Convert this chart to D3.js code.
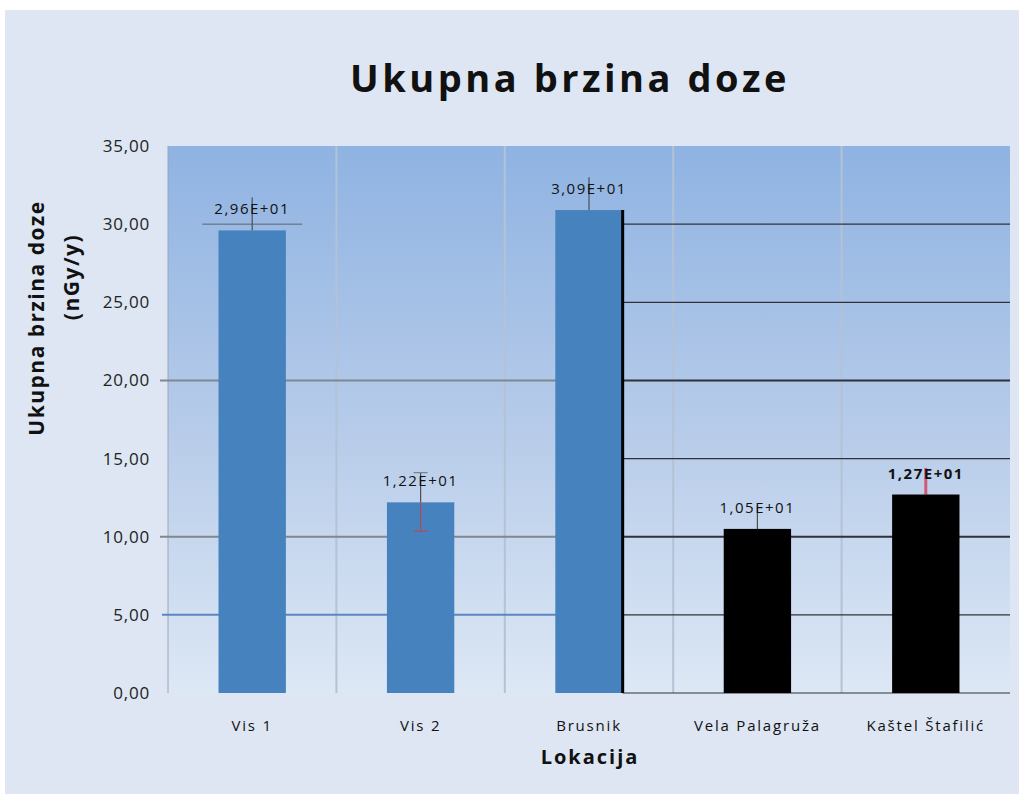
<!DOCTYPE html>
<html>
<head>
<meta charset="utf-8">
<script src="https://cdn.jsdelivr.net/npm/d3@7"></script>
<style>
  body { margin: 0; background: #ffffff; }
  svg { display: block; }
</style>
</head>
<body>
<div id="chart"></div>
<script>
// Data
var locations = ["Vis 1", "Vis 2", "Brusnik", "Vela Palagruža", "Kaštel Štafilić"];
var doseRates = [29.6, 12.2, 30.9, 10.5, 12.7];
var valueLabels = ["2,96E+01", "1,22E+01", "3,09E+01", "1,05E+01", "1,27E+01"];
var errorUp = [2.1, 1.9, 2.1, 1.5, 1.7];
var errorDown = [0, 1.85, 0, 0, 0];
var barColors = ["#4682be", "#4682be", "#4682be", "#000000", "#000000"];
var yTicks = [0, 5, 10, 15, 20, 25, 30, 35];

var width = 1024;
var height = 802;
var margin = { top: 146, right: 14, bottom: 109, left: 168 };

var svg = d3.select("#chart").append("svg")
    .attr("width", width)
    .attr("height", height);

// Gradient for plot area
var defs = svg.append("defs");
var grad = defs.append("linearGradient")
    .attr("id", "plotGrad")
    .attr("x1", 0).attr("y1", 0).attr("x2", 0).attr("y2", 1);
grad.append("stop").attr("offset", "0%").attr("stop-color", "#8fb3e2");
grad.append("stop").attr("offset", "55%").attr("stop-color", "#b9cdea");
grad.append("stop").attr("offset", "100%").attr("stop-color", "#dde8f5");

// Outer chart background
svg.append("rect")
    .attr("x", 5).attr("y", 10)
    .attr("width", 1014).attr("height", 784)
    .attr("fill", "#dde6f2");

var x = d3.scaleBand()
    .domain(locations)
    .range([margin.left, width - margin.right])
    .paddingInner(0.6)
    .paddingOuter(0.3);

var y = d3.scaleLinear()
    .domain([0, 35])
    .range([height - margin.bottom, margin.top]);

var x0 = margin.left, x1 = width - margin.right;
var step = x.step();

// Plot area
svg.append("rect")
    .attr("x", x0).attr("y", y(35))
    .attr("width", x1 - x0).attr("height", y(0) - y(35))
    .attr("fill", "url(#plotGrad)");

// Vertical gridlines at category boundaries
svg.selectAll(".vgrid")
    .data(d3.range(1, locations.length))
    .enter().append("line")
    .attr("x1", i => x0 + i * step).attr("x2", i => x0 + i * step)
    .attr("y1", y(35)).attr("y2", y(0))
    .attr("stroke", "#b4c2d6")
    .attr("stroke-width", 2);

// Left axis line
svg.append("line")
    .attr("x1", x0).attr("x2", x0)
    .attr("y1", y(35)).attr("y2", y(0))
    .attr("stroke", "#9aa6b6").attr("stroke-width", 1);

var splitX = x("Brusnik") + x.bandwidth();

// Horizontal gridlines left part
var leftGrid = [20, 10];
svg.selectAll(".hgridL")
    .data(leftGrid)
    .enter().append("line")
    .attr("x1", x0 - 8).attr("x2", splitX)
    .attr("y1", d => y(d)).attr("y2", d => y(d))
    .attr("stroke", "#7f8790").attr("stroke-width", 2);

svg.append("line")
    .attr("x1", x0 - 6).attr("x2", splitX)
    .attr("y1", y(5)).attr("y2", y(5))
    .attr("stroke", "#5b87c0").attr("stroke-width", 2);

// Short segment at 30 near Vis 1
svg.append("line")
    .attr("x1", x("Vis 1") + x.bandwidth() / 2 - 50)
    .attr("x2", x("Vis 1") + x.bandwidth() / 2 + 50)
    .attr("y1", y(30)).attr("y2", y(30))
    .attr("stroke", "#5a6570").attr("stroke-width", 1);

// Horizontal gridlines right part
var rightGrid = [30, 25, 20, 15, 10, 5, 0];
svg.selectAll(".hgridR")
    .data(rightGrid)
    .enter().append("line")
    .attr("x1", splitX).attr("x2", x1)
    .attr("y1", d => y(d)).attr("y2", d => y(d))
    .attr("stroke", "#2f3338").attr("stroke-width", d => d === 20 || d === 10 ? 2 : 1.2);

// Error bars behind bars (upper part)
svg.append("g").selectAll(".errUp")
    .data(locations)
    .enter().append("line")
    .attr("x1", d => x(d) + x.bandwidth() / 2)
    .attr("x2", d => x(d) + x.bandwidth() / 2)
    .attr("y1", (d, i) => y(doseRates[i]))
    .attr("y2", (d, i) => y(doseRates[i] + errorUp[i]))
    .attr("stroke", (d, i) => i === 4 ? "#d05a78" : "#4a4f58")
    .attr("stroke-width", (d, i) => i === 4 ? 3 : 1.2);

// Bars
svg.selectAll(".bar")
    .data(locations)
    .enter().append("rect")
    .attr("x", d => x(d))
    .attr("y", (d, i) => y(doseRates[i]))
    .attr("width", x.bandwidth())
    .attr("height", (d, i) => y(0) - y(doseRates[i]))
    .attr("fill", (d, i) => barColors[i]);

// Lower error part, drawn over the bar
svg.selectAll(".errDown")
    .data(locations.filter((d, i) => errorDown[i] > 0))
    .enter().append("g")
    .each(function (d) {
        var i = locations.indexOf(d);
        var cx = x(d) + x.bandwidth() / 2;
        var g = d3.select(this);
        g.append("line")
            .attr("x1", cx).attr("x2", cx)
            .attr("y1", y(doseRates[i])).attr("y2", y(doseRates[i] - errorDown[i]))
            .attr("stroke", "#b04a5a").attr("stroke-width", 1.2);
        g.append("line")
            .attr("x1", cx - 7).attr("x2", cx + 7)
            .attr("y1", y(doseRates[i] - errorDown[i])).attr("y2", y(doseRates[i] - errorDown[i]))
            .attr("stroke", "#b04a5a").attr("stroke-width", 1.2);
        g.append("line")
            .attr("x1", cx - 7).attr("x2", cx + 7)
            .attr("y1", y(doseRates[i] + errorUp[i])).attr("y2", y(doseRates[i] + errorUp[i]))
            .attr("stroke", "#7a8088").attr("stroke-width", 1.2);
    });

// Black vertical line at Brusnik right edge
svg.append("line")
    .attr("x1", splitX).attr("x2", splitX)
    .attr("y1", y(doseRates[2])).attr("y2", y(0))
    .attr("stroke", "#000").attr("stroke-width", 3);

// Value labels
svg.selectAll(".vlabel")
    .data(locations)
    .enter().append("text")
    .attr("x", d => x(d) + x.bandwidth() / 2)
    .attr("y", (d, i) => y(doseRates[i]) - 16)
    .attr("text-anchor", "middle")
    .style("font-family", "'Open Sans', sans-serif")
    .style("font-size", "15px")
    .style("letter-spacing", "1.5px")
    .style("font-weight", (d, i) => i === 4 ? "700" : "400")
    .style("fill", "#111")
    .text((d, i) => valueLabels[i]);

// Y axis tick labels
svg.selectAll(".ytick")
    .data(yTicks)
    .enter().append("text")
    .attr("x", 150)
    .attr("y", d => y(d))
    .attr("dy", "0.35em")
    .attr("text-anchor", "end")
    .style("font-family", "'Open Sans', sans-serif")
    .style("font-size", "17px")
    .style("letter-spacing", "0.8px")
    .style("fill", "#222")
    .text(d => d3.format(".2f")(d).replace(".", ","));

// X axis category labels
svg.selectAll(".xtick")
    .data(locations)
    .enter().append("text")
    .attr("x", d => x(d) + x.bandwidth() / 2)
    .attr("y", 731)
    .attr("text-anchor", "middle")
    .style("font-family", "'Open Sans', sans-serif")
    .style("font-size", "15px")
    .style("letter-spacing", "1.8px")
    .style("fill", "#111")
    .text(d => d);

// Axis titles
svg.append("text")
    .attr("x", 590).attr("y", 764)
    .attr("text-anchor", "middle")
    .style("font-family", "'Open Sans', sans-serif")
    .style("font-size", "20px")
    .style("font-weight", "700")
    .style("letter-spacing", "2px")
    .style("fill", "#111")
    .text("Lokacija");

svg.append("text")
    .attr("transform", "translate(44, 318) rotate(-90)")
    .attr("text-anchor", "middle")
    .style("font-family", "'Open Sans', sans-serif")
    .style("font-size", "21px")
    .style("font-weight", "700")
    .style("letter-spacing", "1.5px")
    .style("fill", "#111")
    .text("Ukupna brzina doze");

svg.append("text")
    .attr("transform", "translate(79, 277) rotate(-90)")
    .attr("text-anchor", "middle")
    .style("font-family", "'Open Sans', sans-serif")
    .style("font-size", "21px")
    .style("font-weight", "700")
    .style("letter-spacing", "1.5px")
    .style("fill", "#111")
    .text("(nGy/y)");

// Chart title
svg.append("text")
    .attr("x", 570).attr("y", 92)
    .attr("text-anchor", "middle")
    .style("font-family", "'Open Sans', sans-serif")
    .style("font-size", "38px")
    .style("font-weight", "700")
    .style("letter-spacing", "3.5px")
    .style("fill", "#111")
    .text("Ukupna brzina doze");
</script>
</body>
</html>
